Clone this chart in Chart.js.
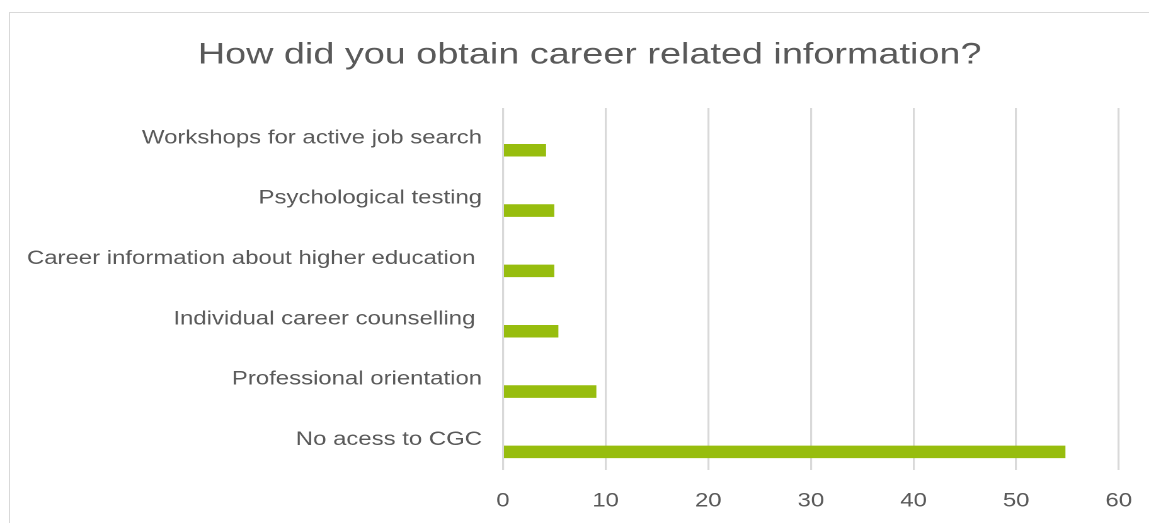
<!DOCTYPE html>
<html>
<head>
<meta charset="utf-8">
<script src="https://cdn.jsdelivr.net/npm/chart.js@4"></script>
<style>
  html, body { margin: 0; padding: 0; background: #fff; overflow: hidden; }
  #frame {
    position: absolute; left: 9px; top: 12px; width: 1200px; height: 600px;
    border-left: 1px solid #d9d9d9; border-top: 1px solid #d9d9d9;
  }
  /* the original picture is stretched sideways, so draw narrower and widen */
  #wrap {
    position: absolute; left: 0; top: 0; width: 919px; height: 523px;
    transform: scaleX(1.2599); transform-origin: 0 0;
  }
</style>
</head>
<body>
<div id="frame"></div>
<div id="wrap"><canvas id="chart"></canvas></div>
<script>
const categories = [
  "Workshops for active job search",
  "Psychological testing",
  "Career information about higher education ",
  "Individual career counselling ",
  "Professional orientation",
  "No acess to CGC"
];
const values = [4.2, 5.0, 5.0, 5.4, 9.1, 54.8];
const emptyValues = [null, null, null, null, null, null];
const xTicks = [0, 10, 20, 30, 40, 50, 60];

const fontFamily = "'Liberation Sans', Arial, sans-serif";
const textColor = "#595959";

// long category labels stick out past the axis box; don't let them get clipped
const labelRoom = {
  id: "labelRoom",
  afterLayout(chart) {
    chart.scales.y.left = 0;
  },
};

new Chart(document.getElementById("chart"), {
  type: "bar",
  data: {
    labels: categories,
    datasets: [
      {
        label: "",
        data: emptyValues,
        backgroundColor: "#97bd0e",
        categoryPercentage: 0.8,
        barPercentage: 0.52,
      },
      {
        label: "Share",
        data: values,
        backgroundColor: "#97bd0e",
        categoryPercentage: 0.8,
        barPercentage: 0.52,
      },
    ],
  },
  plugins: [labelRoom],
  options: {
    indexAxis: "y",
    responsive: true,
    maintainAspectRatio: false,
    animation: false,
    devicePixelRatio: 2,
    layout: { padding: { left: 48, right: 31, top: 12, bottom: 9 } },
    plugins: {
      legend: { display: false },
      tooltip: { enabled: false },
      title: {
        display: true,
        text: "How did you obtain career related information?",
        color: textColor,
        font: { family: fontFamily, size: 30, weight: "normal", lineHeight: 1.2 },
        padding: { top: 25, bottom: 35 },
      },
    },
    scales: {
      x: {
        min: 0,
        max: 60,
        afterBuildTicks: (axis) => {
          axis.ticks = xTicks.map((v) => ({ value: v }));
        },
        afterFit: (axis) => {
          axis.height = 44;
        },
        grid: { color: "#d9d9d9", lineWidth: 1.6, drawTicks: false },
        border: { display: false },
        ticks: {
          color: textColor,
          padding: 20,
          font: { family: fontFamily, size: 19 },
        },
      },
      y: {
        grid: { display: false, drawTicks: false },
        border: { display: false },
        afterFit: (axis) => {
          axis.width = 351.2;
        },
        ticks: {
          color: textColor,
          padding: 16.6,
          font: { family: fontFamily, size: 19 },
        },
      },
    },
  },
});
</script>
</body>
</html>
